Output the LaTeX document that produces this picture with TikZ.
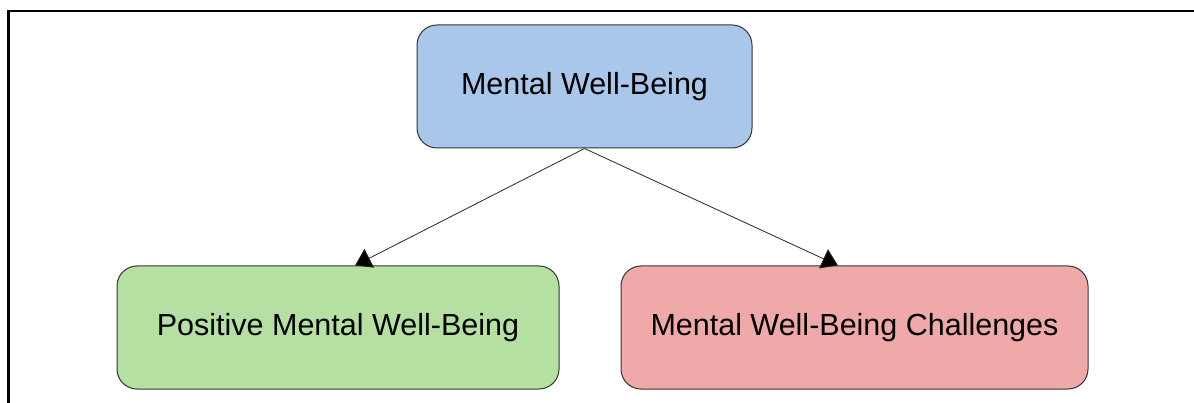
\documentclass[tikz,border=0pt]{standalone}
\usepackage{fontspec}
\setmainfont{Liberation Sans}
\usetikzlibrary{arrows.meta}
\definecolor{topfill}{HTML}{A9C7EB}
\definecolor{goodfill}{HTML}{B5E0A2}
\definecolor{badfill}{HTML}{F0A9A9}
\definecolor{edge}{HTML}{333333}
\tikzset{
  box/.style={draw=edge, line width=1pt, rounded corners=20pt, inner sep=0pt,
    font=\fontsize{30.5}{36}\selectfont, text=black},
  link/.style={draw=black!85, line width=0.8pt,
    -{Triangle[length=16pt,width=21pt,fill=black]}}
}
\newcommand{\lowered}[1]{\raisebox{-2.5pt}{#1}}
\begin{document}
\begin{tikzpicture}[x=1pt,y=-1pt]
  \useasboundingbox (0,0) rectangle (1194,403);
  % frame edges
  \draw[line width=2.2pt, black] (8.5,403) -- (8.5,11) -- (1194,11);
  % nodes
  \node[box, fill=topfill, minimum width=335pt, minimum height=123pt] (top) at (584.5,86.5) {\lowered{Mental Well-Being}};
  \node[box, fill=goodfill, minimum width=442pt, minimum height=123pt] (good) at (338,327.5) {\lowered{Positive Mental Well-Being}};
  \node[box, fill=badfill, minimum width=467pt, minimum height=123pt] (bad) at (854.5,327.5) {\lowered{Mental Well-Being Challenges}};
  % connectors
  \draw[link] (top.south) -- (good.north -| 355,0);
  \draw[link] (top.south) -- (bad.north -| 838,0);
\end{tikzpicture}
\end{document}
